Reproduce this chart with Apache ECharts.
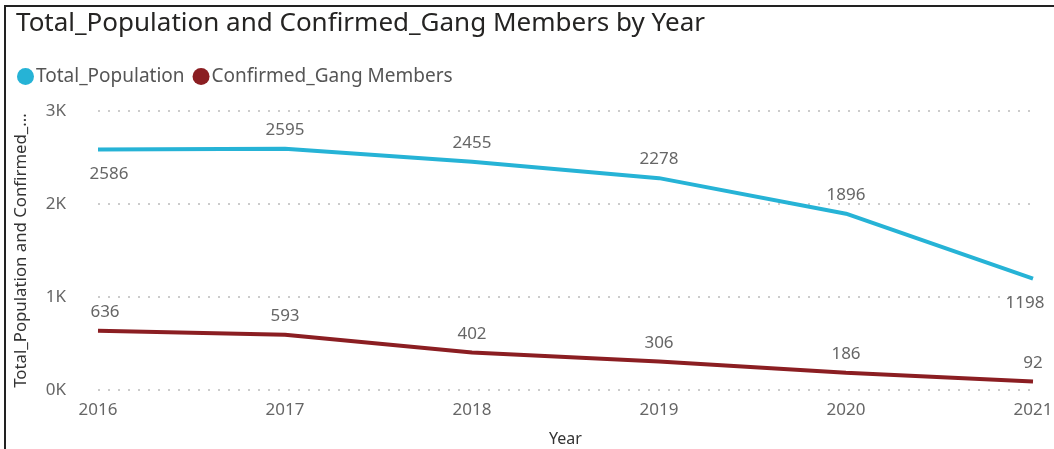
<!DOCTYPE html>
<html>
<head>
<meta charset="utf-8">
<script src="https://cdn.jsdelivr.net/npm/echarts@6/dist/echarts.min.js"></script>
<style>
	html, body { margin: 0; padding: 0; background: #fff; overflow: hidden; }
	#frame { position: absolute; left: 4px; top: 5px; width: 1050px; height: 444px; border-top: 2px solid #222; border-left: 2px solid #222; box-sizing: border-box; }
	#chart { position: absolute; left: 0; top: 0; width: 1054px; height: 449px; }
</style>
</head>
<body>
<div id="frame"></div>
<div id="chart"></div>
<script>
	// data
	const years = ['2016', '2017', '2018', '2019', '2020', '2021']
	const totalPopulation = [2586, 2595, 2455, 2278, 1896, 1198]
	const confirmedGang = [636, 593, 402, 306, 186, 92]
	const yTicks = [0, 1000, 2000, 3000]

	// labels that sit under the line instead of over it
	const belowIdx = [0, 5]

	let myChart = echarts.init(document.getElementById('chart'))
	let labelFont = { color: '#666', fontSize: 17, fontFamily: 'Noto Sans' }
	let lastIdx = years.length - 1
	let option = {
		title: {
			text: 'Total_Population and Confirmed_Gang Members by Year',
			left: 11,
			top: 6,
			textStyle: { color: '#252423', fontSize: 26, fontWeight: 'normal', fontFamily: 'Noto Sans' }
		},
		legend: {
			left: 12,
			top: 62,
			icon: 'circle',
			itemWidth: 17,
			itemHeight: 17,
			itemGap: 8,
			textStyle: { color: '#555', fontSize: 19, fontFamily: 'Noto Sans', padding: [0, 0, 0, -3] }
		},
		grid: { left: 98, right: 21, top: 111, bottom: 59, outerBoundsMode: 'none', containLabel: false },
		xAxis: {
			type: 'category',
			boundaryGap: false,
			data: years,
			name: 'Year',
			nameLocation: 'middle',
			nameGap: 41,
			nameTextStyle: { color: '#333', fontSize: 16, fontFamily: 'Noto Sans' },
			axisLine: { show: false },
			axisTick: { show: false },
			axisLabel: { color: '#666', fontSize: 17, margin: 12, fontFamily: 'Noto Sans' }
		},
		yAxis: {
			type: 'value',
			min: yTicks[0],
			max: yTicks[yTicks.length - 1],
			interval: 1000,
			name: 'Total_Population and Confirmed_...',
			nameLocation: 'middle',
			nameGap: 68,
			nameTextStyle: { color: '#333', fontSize: 16.8, fontFamily: 'Noto Sans' },
			axisLine: { show: false },
			axisTick: { show: false },
			axisLabel: {
				color: '#666', fontSize: 17, margin: 32, fontFamily: 'Noto Sans',
				formatter: v => (v / 1000) + 'K'
			},
			splitLine: { lineStyle: { type: [2, 8], color: '#bbb', width: 1.5 } }
		},
		series: [{
			name: 'Total_Population',
			type: 'line',
			symbol: 'circle',
			symbolSize: 0.1,
			color: '#26b3d6',
			lineStyle: { width: 4 },
			data: totalPopulation.map((v, i) => ({
				value: v,
				label: {
					position: belowIdx.includes(i) ? 'bottom' : 'top',
					distance: belowIdx.includes(i) ? 16 : 10,
					offset: i === 0 ? [11, 0] : (i === lastIdx ? [-8, 0] : [0, 0])
				}
			})),
			label: Object.assign({ show: true }, labelFont)
		}, {
			name: 'Confirmed_Gang Members',
			type: 'line',
			symbol: 'circle',
			symbolSize: 0.1,
			color: '#8b1e22',
			lineStyle: { width: 4 },
			data: confirmedGang.map((v, i) => ({
				value: v,
				label: { offset: i === 0 ? [7, 0] : [0, 0] }
			})),
			label: Object.assign({ show: true, position: 'top', distance: 10 }, labelFont)
		}]
	}
	myChart.setOption(option)
</script>
</body>
</html>
